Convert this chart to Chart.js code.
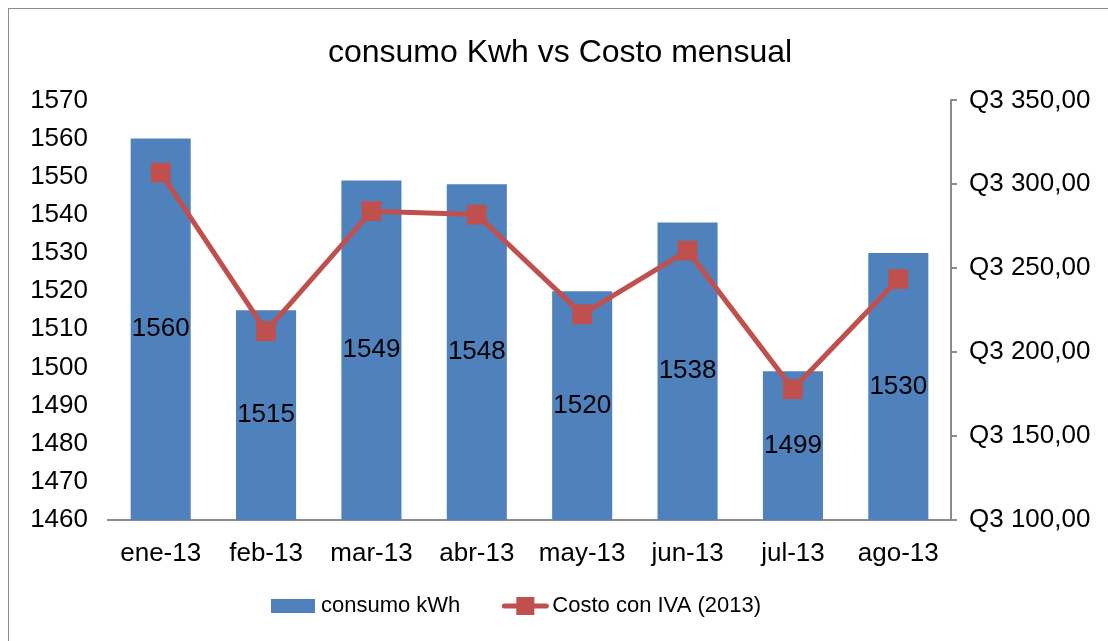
<!DOCTYPE html>
<html>
<head>
<meta charset="utf-8">
<script src="https://cdn.jsdelivr.net/npm/chart.js@4.4.1/dist/chart.umd.min.js"></script>
<style>
  html, body { margin: 0; padding: 0; background: #fff; }
  #wrap { width: 1108px; height: 641px; position: relative; }
</style>
</head>
<body>
<div id="wrap"><canvas id="costChart"></canvas></div>
<script>
const months = ['ene-13', 'feb-13', 'mar-13', 'abr-13', 'may-13', 'jun-13', 'jul-13', 'ago-13'];
const consumoKwh = [1560, 1515, 1549, 1548, 1520, 1538, 1499, 1530];
const costoIva = [307, 212.5, 284, 282, 222.5, 260.5, 178, 243.5];
const leftTicks = [1460, 1470, 1480, 1490, 1500, 1510, 1520, 1530, 1540, 1550, 1560, 1570];
const rightTicks = [100, 150, 200, 250, 300, 350];

const FONT = "'Liberation Sans', Arial, sans-serif";
const BLUE = '#4F81BD';
const RED = '#C0504D';

const frame = {
  id: 'frame',
  beforeDraw(chart) {
    const g = chart.ctx;
    g.save();
    g.strokeStyle = '#8c8c8c';
    g.lineWidth = 1;
    g.strokeRect(8.5, 8.5, chart.width - 8, chart.height - 8);
    g.restore();
  }
};

// value labels in the middle of each bar
const barLabels = {
  id: 'barLabels',
  afterDraw(chart) {
    const xs = chart.scales.x, ys = chart.scales.y;
    const g = chart.ctx;
    g.save();
    g.font = '26px ' + FONT;
    g.fillStyle = '#000000';
    g.textAlign = 'center';
    g.textBaseline = 'middle';
    consumoKwh.forEach(function (v, i) {
      const top = ys.getPixelForValue(v);
      g.fillText(String(v), xs.getPixelForValue(i), (top + ys.bottom) / 2);
    });
    g.restore();
  }
};

// excel style legend under the axis
const bottomLegend = {
  id: 'bottomLegend',
  afterDraw(chart) {
    const g = chart.ctx;
    const names = chart.data.datasets.map(d => d.label);
    g.save();
    g.font = '22px ' + FONT;
    const iconW = 46, gap = 4, between = 42;
    const w0 = g.measureText(names[0]).width;
    const w1 = g.measureText(names[1]).width;
    const total = iconW + gap + w0 + between + iconW + gap + w1;
    let x = 516 - total / 2;
    const y = 606;

    g.fillStyle = BLUE;
    g.fillRect(x, y - 7, 44, 14);
    x += iconW + gap;
    g.fillStyle = '#000';
    g.textBaseline = 'middle';
    g.fillText(names[0], x, y);
    x += w0 + between;

    g.strokeStyle = RED;
    g.lineWidth = 5;
    g.lineCap = 'round';
    g.beginPath(); g.moveTo(x + 2, y); g.lineTo(x + iconW - 2, y); g.stroke();
    g.fillStyle = RED;
    g.fillRect(x + 14, y - 9, 18, 18);
    x += iconW + gap;
    g.fillStyle = '#000';
    g.fillText(names[1], x, y);
    g.restore();
  }
};

const ctx = document.getElementById('costChart').getContext('2d');
new Chart(ctx, {
  type: 'bar',
  data: {
    labels: months,
    datasets: [{
      type: 'bar',
      label: 'consumo kWh',
      data: consumoKwh,
      backgroundColor: BLUE,
      yAxisID: 'y',
      order: 2,
      barPercentage: 0.57,
      categoryPercentage: 1
    }, {
      type: 'line',
      label: 'Costo con IVA (2013)',
      data: costoIva,
      borderColor: RED,
      backgroundColor: RED,
      borderWidth: 5,
      pointStyle: 'rect',
      pointRadius: 14,
      pointBorderWidth: 0,
      pointHoverRadius: 14,
      tension: 0,
      yAxisID: 'y1',
      order: 1
    }]
  },
  options: {
    responsive: true,
    maintainAspectRatio: false,
    animation: false,
    layout: { padding: { left: 20, right: 8, top: 0, bottom: 61 } },
    plugins: {
      title: {
        display: true,
        text: 'consumo Kwh vs Costo mensual',
        color: '#000',
        font: { family: FONT, size: 32, weight: 'normal' },
        padding: { top: 34, bottom: 28 }
      },
      legend: { display: false },
      tooltip: { enabled: false }
    },
    scales: {
      x: {
        grid: { display: false },
        border: { display: true, color: '#8c8c8c', width: 2 },
        afterFit: function (axis) { axis.height = 60; },
        ticks: {
          color: '#000',
          font: { family: FONT, size: 26 },
          padding: 10,
          maxRotation: 0,
          autoSkip: false
        }
      },
      y: {
        position: 'left',
        min: leftTicks[0],
        max: leftTicks[leftTicks.length - 1],
        grid: { display: false },
        border: { display: false },
        afterBuildTicks: function (axis) {
          axis.ticks = leftTicks.map(v => ({ value: v }));
        },
        afterFit: function (axis) { axis.width = 88; },
        ticks: {
          color: '#000',
          font: { family: FONT, size: 26 },
          padding: 12,
          callback: v => String(v)
        }
      },
      y1: {
        position: 'right',
        min: rightTicks[0],
        max: rightTicks[rightTicks.length - 1],
        grid: { display: true, drawOnChartArea: false, color: '#8c8c8c', tickLength: 6, lineWidth: 2 },
        border: { display: true, color: '#8c8c8c', width: 2 },
        afterBuildTicks: function (axis) {
          axis.ticks = rightTicks.map(v => ({ value: v }));
        },
        afterFit: function (axis) { axis.width = 149; },
        ticks: {
          color: '#000',
          font: { family: FONT, size: 26 },
          padding: 12,
          callback: v => 'Q3 ' + Number(v).toFixed(2).replace('.', ',')
        }
      }
    }
  },
  plugins: [frame, barLabels, bottomLegend]
});
</script>
</body>
</html>
